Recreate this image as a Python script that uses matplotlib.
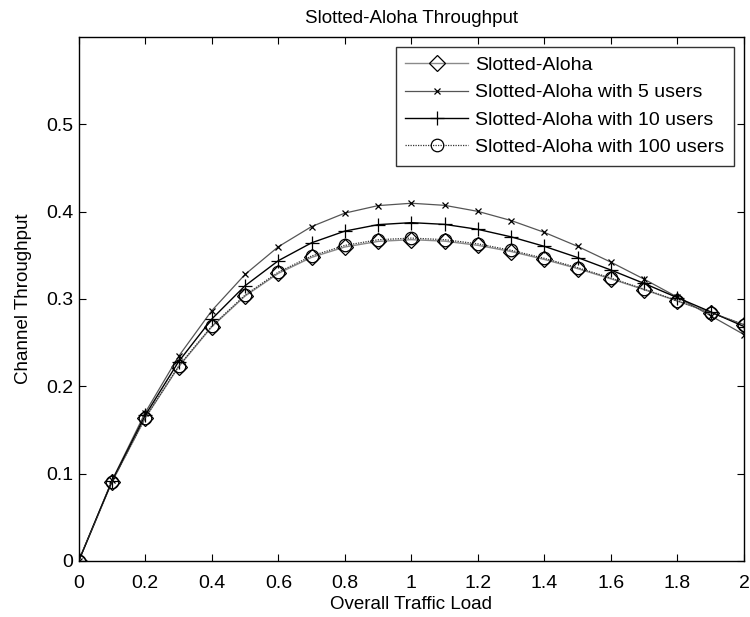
import matplotlib
matplotlib.use("Agg")
import matplotlib.pyplot as plt

plt.rcParams['font.family'] = ['Liberation Sans', 'DejaVu Sans']

# Offered load G
load = [0.0, 0.1, 0.2, 0.3, 0.4, 0.5, 0.6, 0.7, 0.8, 0.9, 1.0,
        1.1, 1.2, 1.3, 1.4, 1.5, 1.6, 1.7, 1.8, 1.9, 2.0]

# Throughput curves
aloha = [0.0, 0.0905, 0.1637, 0.2222, 0.2681, 0.3033, 0.3293, 0.3476, 0.3595, 0.3659, 0.3679,
         0.3662, 0.3614, 0.3543, 0.3452, 0.3347, 0.3230, 0.3106, 0.2975, 0.2842, 0.2707]
users5 = [0.0, 0.0922, 0.1699, 0.2342, 0.2866, 0.3281, 0.3598, 0.3829, 0.3983, 0.4069, 0.4096,
          0.4072, 0.4003, 0.3898, 0.3762, 0.3602, 0.3421, 0.3226, 0.3020, 0.2807, 0.2592]
users10 = [0.0, 0.0914, 0.1668, 0.2281, 0.2770, 0.3151, 0.3438, 0.3643, 0.3777, 0.3851, 0.3874,
           0.3854, 0.3797, 0.3711, 0.3602, 0.3474, 0.3331, 0.3177, 0.3014, 0.2852, 0.2684]
users100 = [0.0, 0.0906, 0.1640, 0.2228, 0.2690, 0.3044, 0.3307, 0.3492, 0.3613, 0.3678, 0.3697,
            0.3679, 0.3631, 0.3557, 0.3465, 0.3358, 0.3239, 0.3112, 0.2979, 0.2843, 0.2705]

labels = ["Slotted-Aloha", "Slotted-Aloha with 5 users",
          "Slotted-Aloha with 10 users", "Slotted-Aloha with 100 users"]

xticks = [0, 0.2, 0.4, 0.6, 0.8, 1, 1.2, 1.4, 1.6, 1.8, 2]
xticklabels = ["0", "0.2", "0.4", "0.6", "0.8", "1", "1.2", "1.4", "1.6", "1.8", "2"]
yticks = [0, 0.1, 0.2, 0.3, 0.4, 0.5]
yticklabels = ["0", "0.1", "0.2", "0.3", "0.4", "0.5"]

fig = plt.figure(figsize=(7.5, 6.17), dpi=100)
ax = fig.add_axes([0.105, 0.091, 0.887, 0.849])

ax.plot(load, aloha, color="#8a8a8a", lw=1.0, marker="D", markersize=8,
        markerfacecolor="none", markeredgecolor="black", markeredgewidth=0.9, label=labels[0])
ax.plot(load, users5, color="#555555", lw=0.9, marker="x", markersize=5,
        markeredgecolor="black", markeredgewidth=0.9, label=labels[1])
ax.plot(load, users10, color="black", lw=1.0, marker="+", markersize=10,
        markeredgecolor="black", markeredgewidth=0.9, label=labels[2])
ax.plot(load, users100, color="#333333", lw=0.9, ls=(0, (1, 1)), marker="o", markersize=9,
        markerfacecolor="none", markeredgecolor="black", markeredgewidth=0.9, label=labels[3])

ax.set_xlim(0, 2)
ax.set_ylim(0, 0.6)
ax.set_xticks(xticks)
ax.set_xticklabels(xticklabels)
ax.set_yticks(yticks)
ax.set_yticklabels(yticklabels)
ax.tick_params(direction="in", top=True, right=True, labelsize=14, length=5, width=0.8)
ax.tick_params(axis="x", pad=10)
ax.tick_params(axis="y", pad=4)
for s in ax.spines.values():
    s.set_linewidth(1.0)

ax.set_title("Slotted-Aloha Throughput", fontsize=13.5, pad=10)
ax.set_xlabel("Overall Traffic Load", fontsize=13.5, labelpad=3)
ax.set_ylabel("Channel Throughput", fontsize=13.5, labelpad=10)

leg = ax.legend(loc="upper right", fontsize=14, frameon=True, fancybox=False,
                edgecolor="black", handlelength=3.2, borderaxespad=0.5,
                labelspacing=0.5, handletextpad=0.4, borderpad=0.5)
leg.get_frame().set_linewidth(1.0)

fig.savefig("out.png", dpi=100)
